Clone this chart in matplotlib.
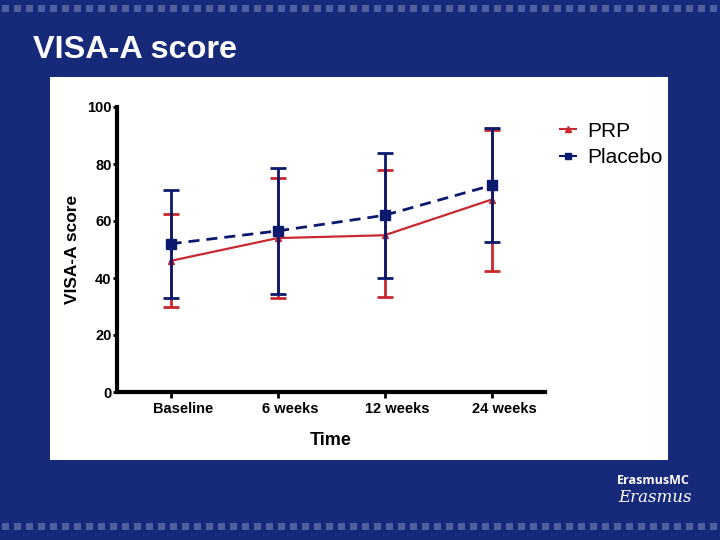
import matplotlib
matplotlib.use("Agg")
import matplotlib.pyplot as plt
import matplotlib.transforms as mtransforms
from matplotlib.patches import Rectangle
from matplotlib.lines import Line2D

plt.rcParams['font.family'] = ['Liberation Sans', 'DejaVu Sans']

categories = ["Baseline", "6 weeks", "12 weeks", "24 weeks"]
prp_mean = [46, 54, 55, 67.5]
prp_upper = [62.5, 75, 78, 92]
prp_lower = [30, 33, 33.5, 42.5]
placebo_mean = [52, 56.5, 62, 72.5]
placebo_upper = [71, 78.5, 84, 92.5]
placebo_lower = [33, 34.5, 40, 52.5]
yticks = [0, 20, 40, 60, 80, 100]

BG = '#172a7a'
RED = '#c8282e'
NAVY = '#0c1a6e'

fig = plt.figure(figsize=(7.2, 5.4), dpi=100)
fig.patch.set_facecolor(BG)

W, H = 720, 540
# dotted border rows
for yy in (5, 523):
    x0 = 2
    while x0 < W:
        fig.patches.append(Rectangle((x0 / W, 1 - (yy + 7) / H), 7 / W, 7 / H,
                                     transform=fig.transFigure, facecolor='#4e5fa3',
                                     edgecolor='none', zorder=-10))
        x0 += 12

# white panel
fig.patches.append(Rectangle((50 / W, 1 - 460 / H), (668 - 50) / W, (460 - 77) / H,
                             transform=fig.transFigure, facecolor='white',
                             edgecolor='none', zorder=-10))

fig.text(33 / W, 1 - 50 / H, "VISA-A score", color='white', fontsize=23.3,
         fontweight='bold', va='center', ha='left')

fig.text(653 / W, 1 - 480 / H, "ErasmusMC", color='white', fontsize=9,
         fontweight='bold', ha='center', va='center', family='Open Sans')
fig.text(655 / W, 1 - 498 / H, "Erasmus", color='white', fontsize=12,
         style='italic', ha='center', va='center', family='DejaVu Serif')

ax = fig.add_axes([117 / W, 1 - 392 / H, (545 - 117) / W, (392 - 107) / H])
ax.set_facecolor('none')
x = list(range(len(categories)))

ax.errorbar(x, prp_mean,
            yerr=[[m - l for m, l in zip(prp_mean, prp_lower)],
                  [u - m for m, u in zip(prp_mean, prp_upper)]],
            color=RED, marker='^', markersize=5, linewidth=1.6, capsize=6,
            capthick=2, elinewidth=2, label='PRP', zorder=3)
ax.errorbar(x, placebo_mean,
            yerr=[[m - l for m, l in zip(placebo_mean, placebo_lower)],
                  [u - m for m, u in zip(placebo_mean, placebo_upper)]],
            color=NAVY, marker='s', markersize=7, linewidth=2, linestyle=(0, (4, 2.5)),
            capsize=6, capthick=2, elinewidth=2, label='Placebo', zorder=4)

ax.set_xlim(-0.5, 3.5)
ax.set_ylim(0, 100)
ax.set_yticks(yticks)
ax.set_yticklabels([str(v) for v in yticks], fontsize=10.5, fontweight='bold')
ax.set_xticks(x)
ax.set_xticklabels(categories, fontsize=10.5, fontweight='bold')
for s in ('top', 'right'):
    ax.spines[s].set_visible(False)
for s in ('left', 'bottom'):
    ax.spines[s].set_linewidth(3)
ax.tick_params(axis='y', width=2, length=3, pad=1)
ax.tick_params(axis='x', width=2, length=4, pad=3)
offset = mtransforms.ScaledTranslation(13 / 100, 0, fig.dpi_scale_trans)
for lab in ax.get_xticklabels():
    lab.set_transform(lab.get_transform() + offset)
ax.set_xlabel("Time", fontsize=13, fontweight='bold', labelpad=12)
ax.set_ylabel("VISA-A score", fontsize=12.5, fontweight='bold', labelpad=5)

handles = [Line2D([], [], color=RED, marker='^', markersize=5, linewidth=1.5),
           Line2D([], [], color=NAVY, marker='s', markersize=5, linewidth=1.5)]
fig.legend(handles, ['PRP', 'Placebo'], loc='upper left',
           bbox_to_anchor=(541 / W, 1 - 103 / H), frameon=False, fontsize=15,
           handlelength=0.8, handletextpad=0.5, labelspacing=0.35)

fig.savefig("out.png", dpi=100, facecolor=fig.get_facecolor())
